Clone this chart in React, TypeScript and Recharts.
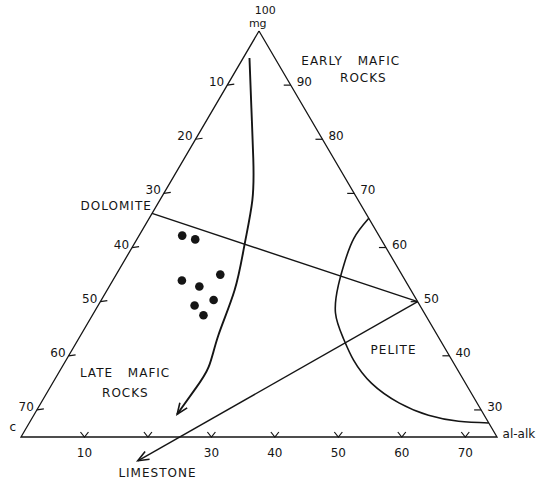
import { ScatterChart, Scatter, XAxis, YAxis } from "recharts";

const W = 539;
const H = 482;
// where the triangle corners sit on screen
const LEFT = 21;
const RIGHT = 497;
const TOP = 31;
const BOTTOM = 437;
const MG_MIN = 25; // the diagram is cut off at mg = 25

// ternary points as mg and al-alk (c = 100 - mg - al)
const maficTrend = [
  { mg: 95, al: 1 }, { mg: 85.8, al: 5.9 }, { mg: 76.4, al: 10.9 }, { mg: 68.7, al: 14.6 },
  { mg: 60.4, al: 17.5 }, { mg: 52.1, al: 20.1 }, { mg: 43.8, al: 21.7 }, { mg: 37.9, al: 23.1 },
  { mg: 33.7, al: 23.0 }, { mg: 29.2, al: 22.5 },
];
const peliteField = [
  { mg: 65.4, al: 34.6 }, { mg: 61.7, al: 34.1 }, { mg: 57.1, al: 34.9 }, { mg: 53.0, al: 36.0 },
  { mg: 47.9, al: 38.1 }, { mg: 43.2, al: 41.7 }, { mg: 39.2, al: 45.3 }, { mg: 34.9, al: 50.3 },
  { mg: 31.3, al: 56.4 }, { mg: 29.0, al: 62.2 }, { mg: 27.9, al: 67.5 }, { mg: 27.6, al: 72.4 },
];
const samples = [
  { mg: 62.2, al: 6.8 }, { mg: 61.5, al: 9.2 }, { mg: 55.0, al: 16.4 }, { mg: 53.9, al: 10.9 },
  { mg: 52.8, al: 14.2 }, { mg: 50.3, al: 17.7 }, { mg: 49.3, al: 15.2 }, { mg: 47.5, al: 17.5 },
];
const dolomiteLine = [{ mg: 66.3, al: 0 }, { mg: 50, al: 50 }];
const limestoneLine = [{ mg: 50, al: 50 }, { mg: 20.6, al: 20.6 }];
const outline = [{ mg: 100, al: 0 }, { mg: 25, al: 0 }, { mg: 25, al: 75 }, { mg: 100, al: 0 }];

const leftTicks = [10, 20, 30, 40, 50, 60, 70]; // c
const rightTicks = [90, 80, 70, 60, 50, 40, 30]; // mg
const bottomTicks = [10, 20, 30, 40, 50, 60, 70]; // al-alk
const bottomTickLabels = ["10", "", "30", "40", "50", "60", "70"];

const fieldLabels = [
  { text: "100", mg: 103.8, al: -0.9 },
  { text: "mg", mg: 101.4, al: -0.9 },
  { text: "EARLY MAFIC", mg: 94.5, al: 17.2 },
  { text: "ROCKS", mg: 91.3, al: 20.8 },
  { text: "DOLOMITE", mg: 67.6, al: -6.3 },
  { text: "LATE MAFIC", mg: 36.8, al: 10.5 },
  { text: "ROCKS", mg: 33.1, al: 12.4 },
  { text: "PELITE", mg: 41.0, al: 50.7 },
  { text: "LIMESTONE", mg: 18.4, al: 24.8 },
  { text: "al-alk", mg: 25.5, al: 78.2 },
  { text: "c", mg: 26.8, al: -2.2 },
];

// scales
const kx = (RIGHT - LEFT) / (100 - MG_MIN);
const ky = (BOTTOM - TOP) / (100 - MG_MIN);
const xMin = MG_MIN / 2 - LEFT / kx;
const xMax = xMin + W / kx;
const yMin = MG_MIN - (H - BOTTOM) / ky;
const yMax = MG_MIN + BOTTOM / ky;

const toXY = (p: { mg: number; al: number }) => ({ x: p.al + p.mg / 2, y: p.mg });

const arrowAt = (from: { mg: number; al: number }, to: { mg: number; al: number }) => {
  const a = toXY(from);
  const b = toXY(to);
  const angle = (Math.atan2(-(b.y - a.y) * ky, (b.x - a.x) * kx) * 180) / Math.PI;
  return { ...b, angle };
};

const arrows = [
  arrowAt(maficTrend[maficTrend.length - 2], maficTrend[maficTrend.length - 1]),
  arrowAt(limestoneLine[0], limestoneLine[1]),
];

const INK = "#151515";
const FONT = "DejaVu Sans, sans-serif";

const none = () => <g />;

const ArrowHead = (p: any) => (
  <path
    d="M-11,-4.5 L0,0 L-11,4.5"
    transform={`translate(${p.cx},${p.cy}) rotate(${p.payload.angle})`}
    fill="none"
    stroke={INK}
    strokeWidth={1.6}
  />
);

const Dot = (p: any) => <circle cx={p.cx} cy={p.cy} r={4.3} fill={INK} />;

const LeftTick = (p: any) => (
  <g>
    <line x1={p.cx} y1={p.cy} x2={p.cx + 7} y2={p.cy - 1} stroke={INK} strokeWidth={1.2} />
    <text x={p.cx - 3} y={p.cy - 3} textAnchor="end" dominantBaseline="central" fontFamily={FONT} fontSize={12} fill={INK}>
      {p.payload.label}
    </text>
  </g>
);

const RightTick = (p: any) => (
  <g>
    <line x1={p.cx} y1={p.cy} x2={p.cx - 7} y2={p.cy} stroke={INK} strokeWidth={1.2} />
    <text x={p.cx + 6} y={p.cy - 3} textAnchor="start" dominantBaseline="central" fontFamily={FONT} fontSize={12} fill={INK}>
      {p.payload.label}
    </text>
  </g>
);

const BottomTick = (p: any) => (
  <g>
    <path d={`M${p.cx - 4},${p.cy - 5} L${p.cx},${p.cy} L${p.cx + 4},${p.cy - 5}`} fill="none" stroke={INK} strokeWidth={1.2} />
    <text x={p.cx} y={p.cy + 16} textAnchor="middle" dominantBaseline="central" fontFamily={FONT} fontSize={12} fill={INK}>
      {p.payload.label}
    </text>
  </g>
);

const FieldLabel = (p: any) => {
  const t: string = p.payload.text;
  const caps = t === t.toUpperCase() && /[A-Z]/.test(t);
  const small = t === "100" || t === "mg";
  return (
    <text
      x={p.cx}
      y={p.cy}
      textAnchor="middle"
      dominantBaseline="central"
      fontFamily={FONT}
      fontSize={small ? 11 : 12}
      letterSpacing={caps ? 1 : 0}
      wordSpacing={caps ? 10 : 0}
      fill={INK}
    >
      {t}
    </text>
  );
};

const leftTickData = leftTicks.map((c) => ({ ...toXY({ mg: 100 - c, al: 0 }), label: String(c) }));
const rightTickData = rightTicks.map((mg) => ({ ...toXY({ mg, al: 100 - mg }), label: String(mg) }));
const bottomTickData = bottomTicks.map((al, i) => ({ ...toXY({ mg: MG_MIN, al }), label: bottomTickLabels[i] }));

export default function App() {
  return (
    <div style={{ position: "absolute", left: 0, top: 0, background: "#fff" }}>
      <ScatterChart width={W} height={H} margin={{ top: 0, right: 0, bottom: 0, left: 0 }}>
        <XAxis type="number" dataKey="x" domain={[xMin, xMax]} allowDataOverflow hide />
        <YAxis type="number" dataKey="y" domain={[yMin, yMax]} allowDataOverflow hide />
        <Scatter data={outline.map(toXY)} line={{ stroke: INK, strokeWidth: 1.3 }} shape={none} isAnimationActive={false} />
        <Scatter data={dolomiteLine.map(toXY)} line={{ stroke: INK, strokeWidth: 1.4 }} shape={none} isAnimationActive={false} />
        <Scatter data={limestoneLine.map(toXY)} line={{ stroke: INK, strokeWidth: 1.4 }} shape={none} isAnimationActive={false} />
        <Scatter data={maficTrend.map(toXY)} line={{ stroke: INK, strokeWidth: 1.9 }} lineJointType="natural" shape={none} isAnimationActive={false} />
        <Scatter data={peliteField.map(toXY)} line={{ stroke: INK, strokeWidth: 1.6 }} lineJointType="natural" shape={none} isAnimationActive={false} />
        <Scatter data={arrows} shape={ArrowHead} isAnimationActive={false} />
        <Scatter data={samples.map(toXY)} shape={Dot} isAnimationActive={false} />
        <Scatter data={leftTickData} shape={LeftTick} isAnimationActive={false} />
        <Scatter data={rightTickData} shape={RightTick} isAnimationActive={false} />
        <Scatter data={bottomTickData} shape={BottomTick} isAnimationActive={false} />
        <Scatter data={fieldLabels.map((l) => ({ ...toXY(l), text: l.text }))} shape={FieldLabel} isAnimationActive={false} />
      </ScatterChart>
    </div>
  );
}
